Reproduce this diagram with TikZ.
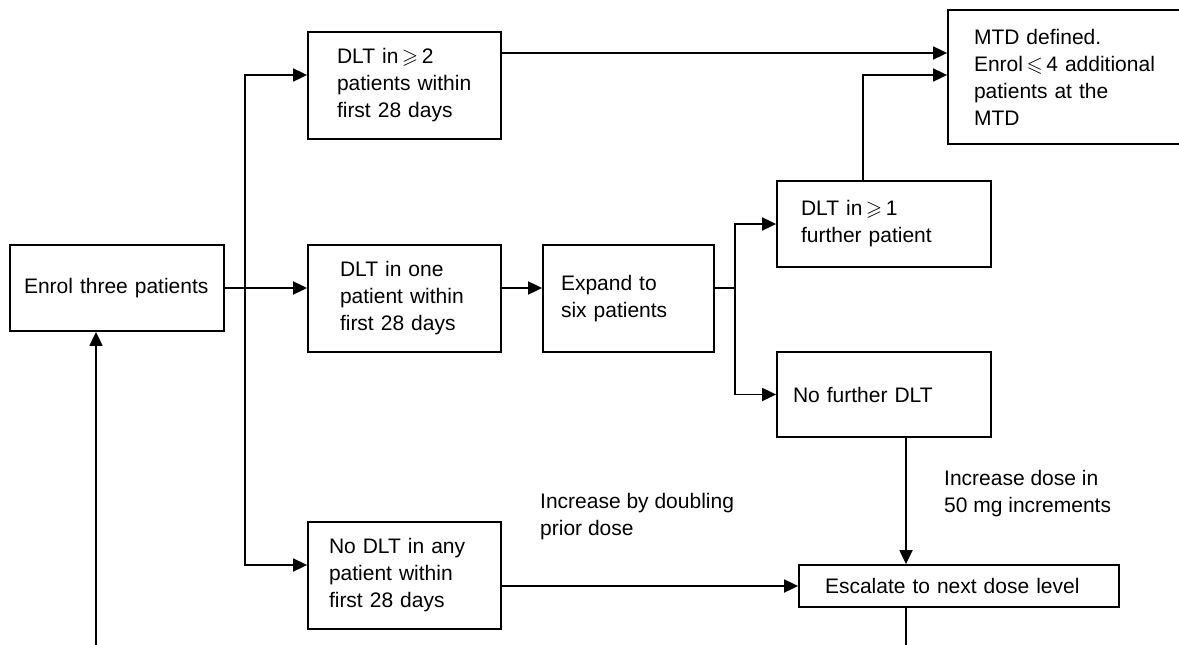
\documentclass[tikz,border=0pt]{standalone}
\usepackage{amsmath, amssymb}
\usepackage{fontspec}
\setmainfont{Liberation Sans}
\usepackage{tikz}
\usetikzlibrary{arrows.meta, positioning}

\begin{document}
\begin{tikzpicture}[
        x=1pt, y=-1pt,
        font=\fontsize{21}{27}\selectfont,
        box/.style={rectangle, draw, line width=1.8pt, align=left, inner xsep=0pt, inner ysep=0pt},
        arrow/.style={-{Triangle[length=14pt, width=13pt]}, line width=1.8pt},
        line/.style={line width=1.8pt},
        note/.style={align=left, inner sep=0pt, anchor=west}
    ]
        \useasboundingbox (0,0) rectangle (1179,645);
        \node[box, minimum width=214pt, minimum height=86pt, text width=186pt] (enrol) at (117,288) {\mbox{Enrol three patients}};
        \node[box, minimum width=193pt, minimum height=107pt, text width=135pt] (dltTwo) at (404.5,85.5) {DLT in\,$\geqslant$\,2\\patients within\\first 28 days};
        \node[box, minimum width=193pt, minimum height=107pt, text width=129pt] (dltOne) at (404.5,298.5) {DLT in one\\patient within\\first 28 days};
        \node[box, minimum width=193pt, minimum height=107pt, text width=151pt] (noDlt) at (404.5,575.5) {No DLT in any\\patient within\\first 28 days};
        \node[box, minimum width=171pt, minimum height=107pt, text width=135pt] (expand) at (628.5,298.5) {Expand to\\six patients};
        \node[box, minimum width=214pt, minimum height=86pt, text width=166pt] (further) at (884,224) {DLT in\,$\geqslant$\,1\\further patient};
        \node[box, minimum width=214pt, minimum height=85pt, text width=182pt] (noFurther) at (884,394.5) {No further DLT};
        \node[box, minimum width=242pt, minimum height=134pt, text width=190pt] (mtd) at (1069,77) {MTD defined.\\Enrol\,$\leqslant$\,4 additional\\patients at the\\MTD};
        \node[box, minimum width=320pt, minimum height=42pt, text width=268pt] (escalate) at (959,586) {Escalate to next dose level};
        \node[note] (doubling) at (540,517) {Increase by doubling\\prior dose};
        \node[note] (increments) at (944,494) {Increase dose in\\50 mg increments};

        % first split after enrolment
        \coordinate (fork) at (245,288);
        \draw[line] (enrol.east) -- (fork);
        \draw[arrow] (fork) -- (fork -| dltOne.west);
        \draw[arrow] (fork) |- ([yshift=10.5pt]dltTwo.west);
        \draw[arrow] (fork) |- ([yshift=10.5pt]noDlt.west);
        \draw[arrow] ([yshift=10.5pt]dltOne.east) -- ([yshift=10.5pt]expand.west);

        % second split after expansion
        \coordinate (fork2) at (735,288);
        \draw[line] ([yshift=10.5pt]expand.east) -- (fork2);
        \draw[arrow] (fork2) |- (further.west);
        \draw[arrow] (fork2) |- (noFurther.west);

        % into the MTD box
        \coordinate (hiIn) at ([yshift=32.5pt]dltTwo.east);
        \draw[arrow] (hiIn) -- (hiIn -| mtd.west);
        \draw[arrow] ([xshift=-21pt]further.north) |- ([yshift=2pt]mtd.west);

        % escalation
        \draw[arrow] ([yshift=-10.5pt]noDlt.east) -- (escalate.west);
        \coordinate (down) at ([xshift=22pt]noFurther.south);
        \draw[arrow] (down) -- (down |- escalate.north);
        \coordinate (loopR) at (906,650);
        \coordinate (loopL) at (96,650);
        \draw[line] (escalate.south -| loopR) -- (loopR);
        \draw[arrow] (loopL) -- (loopL |- enrol.south);
    \end{tikzpicture}
\end{document}
